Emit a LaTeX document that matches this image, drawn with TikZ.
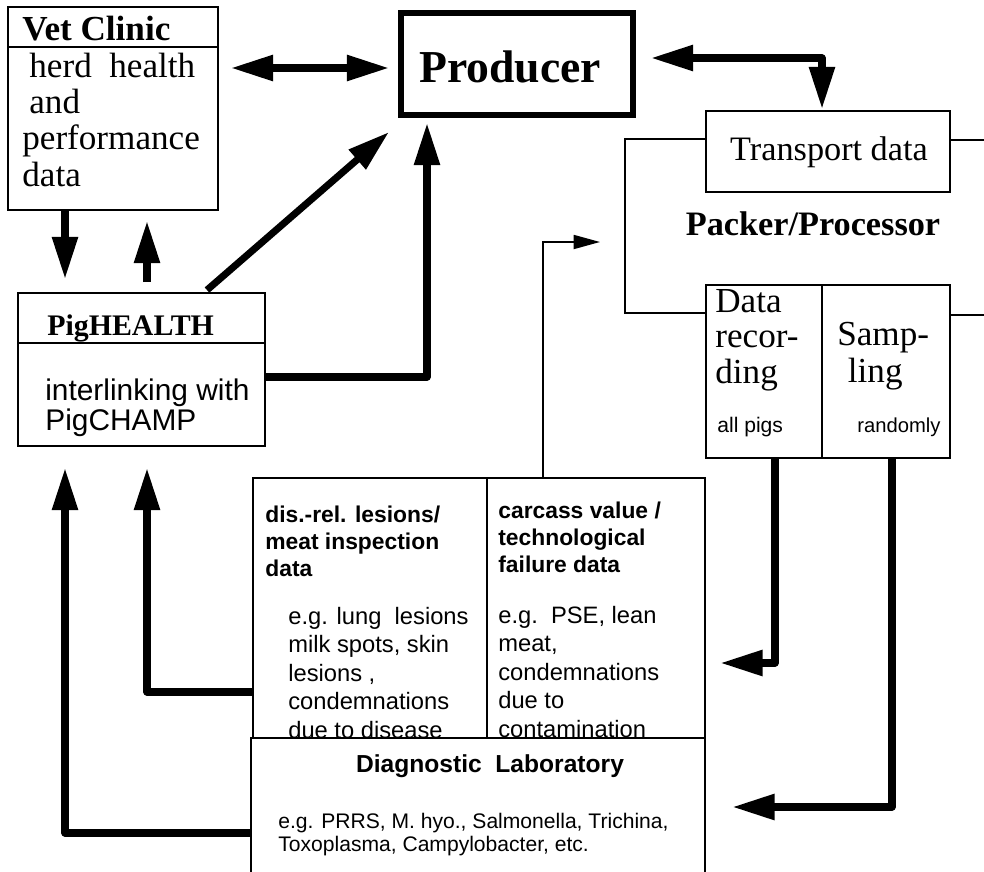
\documentclass[tikz,border=0pt]{standalone}
\usepackage{fontspec}
\setmainfont{Liberation Serif}
\setsansfont{Liberation Sans}
\usetikzlibrary{arrows.meta,fit,calc}
\tikzset{ % common looks of the chart
	box/.style={draw, line width=1.1pt, inner sep=0pt},
	heavybox/.style={box, line width=3.4pt},
	databox/.style={box, line width=1.6pt},
	rule/.style={line width=1.1pt},
	fat/.style={line width=4pt, line join=round, -{Triangle[length=24pt,width=14pt]}},
	fatboth/.style={fat, {Triangle[length=24pt,width=14pt]}-{Triangle[length=24pt,width=14pt]}},
	fine/.style={line width=0.9pt, -{Triangle[length=15pt,width=8pt]}},
	txt/.style={inner sep=0pt, align=left, anchor=base west}, % base = last line
}
\begin{document}
\begin{tikzpicture}[x=0.02cm, y=-0.02cm]
		\clip (0,0) rectangle (984,872);
		% Draw boxes
		\node[box, fit={(8,7) (218,210)}] (vet) {};
		\node[heavybox, fit={(401,13) (633,115)}] (producer) {};
		\node[box, fit={(706,111) (950,192)}] (transport) {};
		\node[box, fit={(706,285) (822,458)}] (record) {};
		\node[box, fit={(822,285) (950,458)}] (sampling) {};
		\node[box, fit={(18,293) (265,446)}] (pighealth) {};
		\node[databox, fit={(253,478) (487,738)}] (lesions) {};
		\node[databox, fit={(487,478) (705,738)}] (carcass) {};
		\node[databox, fit={(251,738) (705,890)}] (lab) {};
		% Draw dividers / packer outline
		\draw[rule] (vet.west |- 0,47) -- (vet.east |- 0,47);
		\draw[rule] (pighealth.west |- 0,343) -- (pighealth.east |- 0,343);
		\draw[rule] (transport.west |- 0,139) -| (625,313) -- (record.west |- 0,313);
		\draw[rule] (transport.east |- 0,140) -- (984,140);
		\draw[rule] (sampling.east |- 0,315) -- (984,315);
		% Draw texts (at the baseline of the last line)
		\node[txt, font=\bfseries\fontsize{20}{20}\selectfont] (vettitle) at (22,40) {Vet Clinic};
		\node[txt, font=\fontsize{20}{20.6}\selectfont] (vettext) at (22,186) {\hspace{4pt}herd\ \ health\\\hspace{4pt}and\\performance\\data};
		\node[txt, anchor=base, font=\bfseries\fontsize{26}{30}\selectfont] (prodname) at (510,82) {Producer};
		\node[txt, anchor=base, font=\fontsize{19.5}{22}\selectfont] (transname) at (829,160) {Transport data};
		\node[txt, anchor=base, font=\bfseries\fontsize{19.5}{22}\selectfont] (packname) at (813,235) {Packer/Processor};
		\node[txt, font=\fontsize{20}{20}\selectfont] (recname) at (715,383) {Data\\recor-\\ding};
		\node[txt, font=\fontsize{20}{20.5}\selectfont] (sampname) at (837,382) {Samp-\\\hspace{6pt}ling};
		\node[txt, font=\sffamily\fontsize{12}{13}\selectfont] (allpigs) at (717,432) {all pigs};
		\node[txt, font=\sffamily\fontsize{11.5}{13}\selectfont] (random) at (857,432) {randomly};
		\node[txt, font=\bfseries\fontsize{17}{18}\selectfont] (phname) at (47,335) {PigHEALTH};
		\node[txt, font=\sffamily\fontsize{17}{17}\selectfont] (phtext) at (45,430) {interlinking with\\PigCHAMP};
		\node[txt, font=\sffamily\bfseries\fontsize{13}{15.3}\selectfont] (lesname) at (265,576) {dis.-rel. lesions/\\meat inspection\\data};
		\node[txt, font=\sffamily\fontsize{13.5}{16.2}\selectfont] (lestext) at (288,738) {e.g. lung\ \ lesions\\milk spots, skin\\lesions ,\\condemnations\\due to disease};
		\node[txt, font=\sffamily\bfseries\fontsize{13}{15.3}\selectfont] (carname) at (498,572) {carcass value /\\technological\\failure data};
		\node[txt, font=\sffamily\fontsize{13.5}{16.2}\selectfont] (cartext) at (498,737) {e.g.\ \ PSE, lean\\meat,\\condemnations\\due to\\contamination};
		\node[txt, anchor=base, font=\sffamily\bfseries\fontsize{14}{15}\selectfont] (labname) at (490,772) {Diagnostic\ \ Laboratory};
		\node[txt, font=\sffamily\fontsize{12}{13}\selectfont] (labtext) at (278,851) {e.g. PRRS, M. hyo., Salmonella, Trichina,\\Toxoplasma, Campylobacter, etc.};
		% Draw thick arrows
		\draw[fatboth] ($(vet.east |- 0,68)+(12,0)$) -- ($(producer.west |- 0,68)+(-9,0)$);
		\draw[fatboth] ($(producer.east)+(15,-6)$) -| ($(transport.north)+(-6,-1)$);
		\draw[fat] (vet.south -| 65,0) -- ($(pighealth.north -| 65,0)+(0,-13)$);
		\draw[fat] ($(pighealth.north -| 147,0)+(0,-10)$) -- ($(vet.south -| 147,0)+(0,10)$);
		\draw[fat] ($(pighealth.north -| 207,0)+(0,-2)$) -- ($(producer.south west)+(-9,14)$);
		\draw[fat] (pighealth.east |- 0,377) -| ($(producer.south -| 427,0)+(0,5)$);
		\draw[fat] (lesions.west |- 0,692) -| ($(pighealth.south -| 147,0)+(0,21)$);
		\draw[fat] (lab.west |- 0,833) -| ($(pighealth.south -| 65,0)+(0,21)$);
		\draw[fat] (record.south -| 775,0) |- ($(carcass.east |- 0,663)+(14,0)$);
		\draw[fat] (sampling.south -| 892,0) |- ($(lab.east |- 0,807)+(26,0)$);
		% Draw thin arrow
		\coordinate (packer) at (600,242);
		\draw[fine] (carcass.north -| 543,0) |- (packer);
\end{tikzpicture}
\end{document}
